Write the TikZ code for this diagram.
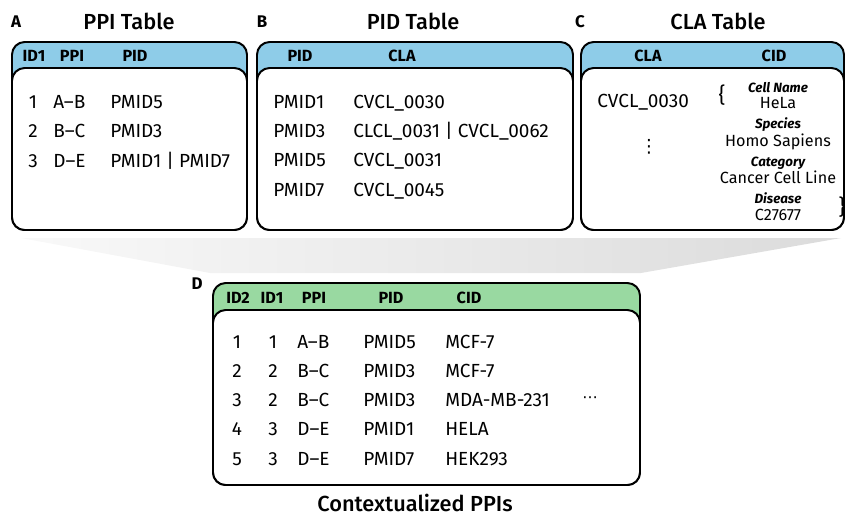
\documentclass[tikz,border=0pt]{standalone}
\usepackage{fontspec}
\setmainfont{Fira Sans}
\newfontfamily\titlefont{Fira Sans}[UprightFont=* Medium]
\newfontfamily\symfont{DejaVu Sans}
\definecolor{hdrblue}{HTML}{8ECCE8}
\definecolor{hdrgreen}{HTML}{99D9A1}

\tikzset{
  panel/.style={draw=black, line width=1.4pt, rounded corners=9pt},
  tabletitle/.style={font=\fontsize{15.5}{18}\titlefont, anchor=base},
  letter/.style={font=\fontsize{12}{14}\selectfont\bfseries, anchor=base},
  colhead/.style={font=\fontsize{11.5}{13}\selectfont\bfseries, anchor=base, inner sep=0pt},
  cell/.style={font=\fontsize{13.5}{16}\selectfont, anchor=base west, inner sep=0pt},
  cellc/.style={font=\fontsize{13.5}{16}\selectfont, anchor=base, inner sep=0pt},
  field/.style={font=\fontsize{9.5}{11}\selectfont\bfseries\itshape, anchor=base, inner sep=0pt},
  value/.style={font=\fontsize{11.5}{13}\selectfont, anchor=base, inner sep=0pt}
}

\begin{document}
\begin{tikzpicture}[x=0.025cm, y=-0.025cm]
    \useasboundingbox (0,0) rectangle (845,515);

    % grey funnel from the three tables down to the joined one
    \shade[left color=gray!5, right color=gray!28] (21,238) -- (841,238) -- (641,273) -- (210,273) -- cycle;

    % Panel A: PPI table
    \node[letter] (labA) at (16,27) {A};
    \node[tabletitle] (ttlA) at (129,29) {PPI Table};
    \draw[panel, fill=hdrblue] (12,42) rectangle (247,230);
    \draw[panel, fill=white] (12,68) rectangle (247,230);
    \node[colhead] (hA1) at (34,61) {ID1};
    \node[colhead] (hA2) at (72,61) {PPI};
    \node[colhead] (hA3) at (135,61) {PID};
    \foreach \i/\p/\q [count=\r] in {1/A--B/PMID5, 2/B--C/PMID3, 3/D--E/{PMID1 | PMID7}} {
        \node[cellc] (a\r id) at (33,{108+(\r-1)*29.5}) {\i};
        \node[cell] (a\r ppi) at (53,{108+(\r-1)*29.5}) {\p};
        \node[cell] (a\r pid) at (110,{108+(\r-1)*29.5}) {\q};
    }

    % Panel B: PID table
    \node[letter] (labB) at (262,27) {B};
    \node[tabletitle] (ttlB) at (413,29) {PID Table};
    \draw[panel, fill=hdrblue] (257,42) rectangle (573,230);
    \draw[panel, fill=white] (257,68) rectangle (573,230);
    \node[colhead] (hB1) at (300,61) {PID};
    \node[colhead] (hB2) at (402,61) {CLA};
    \foreach \p/\c [count=\r] in {PMID1/CVCL\_0030, PMID3/{CLCL\_0031 | CVCL\_0062}, PMID5/CVCL\_0031, PMID7/CVCL\_0045} {
        \node[cell] (b\r pid) at (273,{108+(\r-1)*29.4}) {\p};
        \node[cell] (b\r cla) at (353,{108+(\r-1)*29.4}) {\c};
    }

    % Panel C: CLA table
    \node[letter] (labC) at (580,27) {C};
    \node[tabletitle] (ttlC) at (718,29) {CLA Table};
    \draw[panel, fill=hdrblue] (581,42) rectangle (844,230);
    \draw[panel, fill=white] (581,68) rectangle (844,230);
    \node[colhead] (hC1) at (648,61) {CLA};
    \node[colhead] (hC2) at (774,61) {CID};
    \node[cell] (c1cla) at (597,107) {CVCL\_0030};
    \node[font=\fontsize{13}{15}\symfont] (cdots) at (649,147) {⋮};
    \node[font=\fontsize{15}{17}\selectfont] (bropen) at (722,95) {\{};
    \node[font=\fontsize{15}{17}\selectfont] (brclose) at (842,207) {\}};
    \node[field] (fname) at (778,92) {Cell Name};
    \node[value] (vname) at (778,108) {HeLa};
    \node[field] (fspec) at (778,128) {Species};
    \node[value] (vspec) at (778,146) {Homo Sapiens};
    \node[field] (fcat) at (778,166) {Category};
    \node[value] (vcat) at (778,183) {Cancer Cell Line};
    \node[field] (fdis) at (778,203) {Disease};
    \node[value] (vdis) at (778,220) {C27677};

    % Panel D: joined table
    \node[letter] (labD) at (197,289) {D};
    \draw[panel, fill=hdrgreen] (213,283) rectangle (640,485);
    \draw[panel, fill=white] (213,310) rectangle (640,485);
    \node[colhead] (hD1) at (238,303) {ID2};
    \node[colhead] (hD2) at (272,303) {ID1};
    \node[colhead] (hD3) at (314,303) {PPI};
    \node[colhead] (hD4) at (391,303) {PID};
    \node[colhead] (hD5) at (469,303) {CID};
    \foreach \a/\b/\p/\q/\c [count=\r] in {1/1/A--B/PMID5/MCF-7, 2/2/B--C/PMID3/MCF-7, 3/2/B--C/PMID3/MDA-MB-231, 4/3/D--E/PMID1/HELA, 5/3/D--E/PMID7/HEK293} {
        \node[cellc] (d\r id2) at (237,{348+(\r-1)*29.3}) {\a};
        \node[cellc] (d\r id1) at (273,{348+(\r-1)*29.3}) {\b};
        \node[cell] (d\r ppi) at (297,{348+(\r-1)*29.3}) {\p};
        \node[cell] (d\r pid) at (363,{348+(\r-1)*29.3}) {\q};
        \node[cell] (d\r cid) at (445,{348+(\r-1)*29.3}) {\c};
    }
    \node[font=\fontsize{11}{13}\symfont] (more) at (590,400) {⋯};
    \node[tabletitle] (ttlD) at (415,511) {Contextualized PPIs};
\end{tikzpicture}
\end{document}
